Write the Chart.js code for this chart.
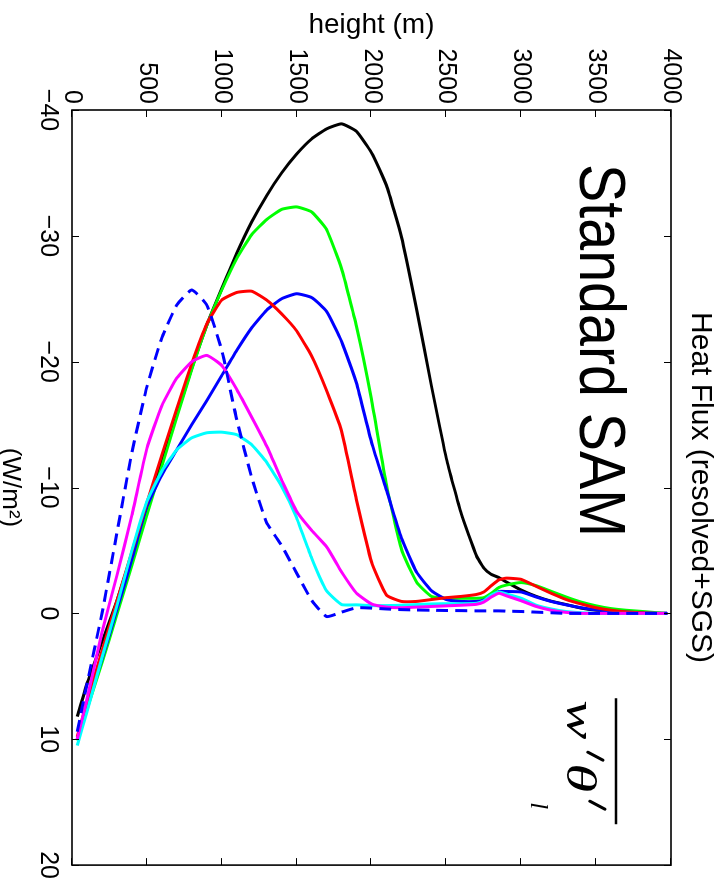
<!DOCTYPE html>
<html>
<head>
<meta charset="utf-8">
<script src="https://cdn.jsdelivr.net/npm/chart.js@4.4.0/dist/chart.umd.min.js"></script>
<style>
  html, body { margin: 0; padding: 0; background: #fff; }
  #pagina { position: relative; width: 728px; height: 888px; overflow: hidden; }
  /* o grafico original e desenhado deitado e girado 90 graus */
  #giro { position: absolute; left: 0; top: 0; width: 888px; height: 728px;
          transform-origin: 0 0; transform: translate(728px, 0) rotate(90deg); }
</style>
</head>
<body>
<div id="pagina"><div id="giro"><canvas id="grafico" width="888" height="728"></canvas></div></div>
<script>
// Alturas (m) comuns a todas as curvas
const alturas = [35, 100, 200, 300, 400, 500, 600, 700, 800, 900, 1000, 1100, 1200, 1300, 1400,
  1500, 1600, 1700, 1800, 1900, 2000, 2100, 2200, 2300, 2400, 2500, 2600, 2700, 2750, 2800,
  2850, 2900, 3000, 3100, 3200, 3300, 3400, 3500, 3600, 3700, 3800, 3900, 3975];

// Fluxo de calor (W/m2) de cada curva
const fluxoPreto = [8.2, 5.6, 2.3, -1.0, -4.7, -8.4, -12.1, -15.8, -19.5, -22.9, -25.8, -28.6, -31.1, -33.2, -35.0,
  -36.5, -37.7, -38.5, -38.9, -38.3, -36.6, -34.0, -29.9, -24.2, -18.1, -12.3, -7.9, -4.6, -3.6, -3.1,
  -2.85, -2.5, -1.85, -1.35, -0.97, -0.7, -0.42, -0.25, -0.15, -0.08, -0.03, 0, 0];
const fluxoVerde = [10.1, 7.6, 3.9, 0.1, -3.8, -7.8, -11.7, -15.6, -19.4, -22.9, -25.7, -28.2, -30.1, -31.3, -32.1,
  -32.3, -31.9, -30.5, -27.4, -22.8, -17.0, -10.2, -5.1, -2.5, -1.35, -1.2, -1.2, -1.2, -1.25, -1.6,
  -2.05, -2.25, -2.45, -2.2, -1.75, -1.3, -0.9, -0.6, -0.38, -0.25, -0.16, -0.06, 0];
const fluxoAzul = [10.0, 7.4, 3.6, -0.3, -4.3, -8.5, -11.0, -13.0, -15.0, -16.9, -18.9, -20.9, -22.7, -24.1, -25.0,
  -25.4, -25.1, -24.0, -21.6, -18.3, -13.6, -9.8, -6.0, -3.3, -1.8, -1.1, -0.95, -0.95, -1.05, -1.4,
  -1.74, -1.74, -1.7, -1.3, -0.95, -0.68, -0.45, -0.28, -0.18, -0.1, -0.05, 0, 0];
const fluxoVermelho = [9.8, 7.0, 3.0, -1.0, -4.9, -8.8, -12.6, -16.3, -19.9, -23.0, -24.9, -25.5, -25.6, -24.9, -23.8,
  -22.45, -20.45, -17.7, -14.5, -9.0, -4.1, -1.45, -0.95, -0.95, -1.1, -1.25, -1.35, -1.5, -1.7, -2.2,
  -2.66, -2.8, -2.7, -2.15, -1.6, -1.1, -0.75, -0.45, -0.25, -0.12, -0.05, 0, 0];
const fluxoMagenta = [10.0, 6.8, 1.5, -3.0, -7.8, -13.1, -16.5, -18.7, -20.0, -20.5, -19.7, -17.8, -15.6, -13.3, -10.6,
  -8.1, -6.6, -5.3, -3.3, -1.6, -0.75, -0.5, -0.45, -0.5, -0.55, -0.6, -0.65, -0.72, -0.9, -1.3,
  -1.6, -1.4, -1.0, -0.55, -0.25, -0.08, 0, 0, 0, 0, 0, 0, 0];
const fluxoCiano = [10.5, 7.8, 3.5, -0.6, -5.0, -8.9, -11.3, -13.0, -13.95, -14.35, -14.4, -14.2, -13.4, -12.0, -10.1,
  -7.6, -4.4, -1.8, -0.7, -0.68, -0.62, -0.62, -0.65, -0.7, -0.75, -0.77, -0.77, -0.8, -1.0, -1.45,
  -1.7, -1.55, -1.2, -0.65, -0.35, -0.15, -0.05, 0, 0, 0, 0, 0, 0];
const fluxoAzulTracejado = [9.4, 5.6, 0.0, -6.4, -12.8, -18.0, -21.9, -24.5, -25.7, -24.5, -20.9, -15.4, -10.8, -7.2, -5.4,
  -3.2, -1.05, 0.25, -0.1, -0.45, -0.42, -0.35, -0.3, -0.27, -0.25, -0.23, -0.22, -0.2, -0.2, -0.2,
  -0.2, -0.18, -0.15, -0.1, -0.05, 0, 0, 0, 0, 0, 0, 0, 0];

// Marcas dos eixos
const marcasFluxo = [-40, -30, -20, -10, 0, 10, 20];
const marcasAltura = [0, 500, 1000, 1500, 2000, 2500, 3000, 3500, 4000];

const series = [
  { fluxo: fluxoPreto, cor: '#000000', traco: [], ordem: 7 },
  { fluxo: fluxoVerde, cor: '#00ff00', traco: [], ordem: 6 },
  { fluxo: fluxoAzul, cor: '#0000ff', traco: [], ordem: 5 },
  { fluxo: fluxoVermelho, cor: '#ff0000', traco: [], ordem: 4 },
  { fluxo: fluxoCiano, cor: '#00ffff', traco: [], ordem: 3 },
  { fluxo: fluxoMagenta, cor: '#ff00ff', traco: [], ordem: 2 },
  { fluxo: fluxoAzulTracejado, cor: '#0000ff', traco: [12, 7], ordem: 1 }
];

// desenha um texto esticado na horizontal
function textoLargo(ctx, texto, u, v, esticar) {
  ctx.save();
  ctx.translate(u, v);
  ctx.scale(esticar, 1);
  ctx.fillText(texto, 0, 0);
  ctx.restore();
}

// Moldura com marcas para dentro e os textos dentro do grafico
const moldura = {
  id: 'moldura',
  afterDraw(chart) {
    const { ctx, chartArea: a, scales: { x, y } } = chart;
    ctx.save();
    ctx.strokeStyle = '#000';
    ctx.lineWidth = 1;
    ctx.beginPath();
    marcasFluxo.forEach(v => {
      const px = Math.round(x.getPixelForValue(v)) + 0.5;
      ctx.moveTo(px, a.bottom); ctx.lineTo(px, a.bottom - 7);
      ctx.moveTo(px, a.top); ctx.lineTo(px, a.top + 7);
    });
    marcasAltura.forEach(v => {
      const py = Math.round(y.getPixelForValue(v)) + 0.5;
      ctx.moveTo(a.left, py); ctx.lineTo(a.left + 7, py);
      ctx.moveTo(a.right, py); ctx.lineTo(a.right - 7, py);
    });
    ctx.stroke();
    ctx.lineWidth = 1.6;
    ctx.strokeRect(a.left, a.top, a.right - a.left, a.bottom - a.top);

    // "Standard SAM"
    ctx.fillStyle = '#000';
    ctx.textBaseline = 'alphabetic';
    ctx.textAlign = 'left';
    ctx.font = '64px "Liberation Sans", Arial, sans-serif';
    ctx.fillText('Standard SAM', x.getPixelForValue(-35.7), y.getPixelForValue(3395), 373);

    // w'θ'_l com barra
    const u0 = x.getPixelForValue(6.9);
    const v0 = y.getPixelForValue(3305);
    ctx.font = 'italic 42px "Liberation Serif", "DejaVu Serif", serif';
    textoLargo(ctx, 'w', u0, v0, 1.4);
    textoLargo(ctx, '\u03b8', u0 + 63, v0, 1.4);
    ctx.font = 'italic 25px "Liberation Serif", "DejaVu Serif", serif';
    ctx.fillText('l', u0 + 102, v0 + 36);
    ctx.lineWidth = 3;
    ctx.lineCap = 'round';
    ctx.beginPath();
    ctx.moveTo(u0 + 52, v0 - 21); ctx.lineTo(u0 + 60, v0 - 36);
    ctx.moveTo(u0 + 101, v0 - 23); ctx.lineTo(u0 + 109, v0 - 38);
    ctx.stroke();
    ctx.lineWidth = 2.5;
    ctx.lineCap = 'butt';
    ctx.beginPath();
    ctx.moveTo(u0 - 2, v0 - 49); ctx.lineTo(u0 + 124, v0 - 49);
    ctx.stroke();
    ctx.restore();
  }
};

Chart.defaults.font.family = '"Liberation Sans", Arial, Helvetica, sans-serif';
Chart.defaults.color = '#000';

const ctx = document.getElementById('grafico').getContext('2d');
new Chart(ctx, {
  type: 'scatter',
  data: {
    datasets: series.map(s => ({
      data: alturas.map((h, i) => ({ x: s.fluxo[i], y: h })),
      showLine: true,
      borderColor: s.cor,
      backgroundColor: s.cor,
      borderWidth: 3,
      borderDash: s.traco,
      pointRadius: 0,
      tension: 0.15,
      order: s.ordem
    }))
  },
  options: {
    responsive: false,
    animation: false,
    events: [],
    layout: { padding: { left: 0, right: 18, top: 0, bottom: 0 } },
    plugins: {
      legend: { display: false },
      tooltip: { enabled: false },
      title: {
        display: true,
        text: 'Heat Flux (resolved+SGS)',
        fullSize: false,
        color: '#000',
        font: { size: 30, weight: 'normal' },
        padding: { top: 10, bottom: 11 }
      }
    },
    scales: {
      x: {
        type: 'linear',
        min: -40,
        max: 20,
        grid: { display: false, drawTicks: false },
        border: { display: false },
        afterBuildTicks: s => { s.ticks = marcasFluxo.map(v => ({ value: v })); },
        afterFit: s => { s.height = 72; },
        ticks: {
          font: { size: 25 },
          padding: 9,
          maxRotation: 0,
          autoSkip: false,
          callback: v => String(v).replace('-', '\u2212')
        },
        title: { display: true, text: '(W/m\u00b2)', font: { size: 26, lineHeight: 0.75 }, padding: 0 }
      },
      y: {
        type: 'linear',
        min: 0,
        max: 4000,
        grid: { display: false, drawTicks: false },
        border: { display: false },
        afterBuildTicks: s => { s.ticks = marcasAltura.map(v => ({ value: v })); },
        afterFit: s => { s.width = 110; },
        ticks: { font: { size: 25 }, padding: 6, autoSkip: false, callback: v => String(v) },
        title: { display: true, text: 'height (m)', font: { size: 28 }, padding: { top: 8, bottom: 0 } }
      }
    }
  },
  plugins: [moldura]
});
</script>
</body>
</html>
